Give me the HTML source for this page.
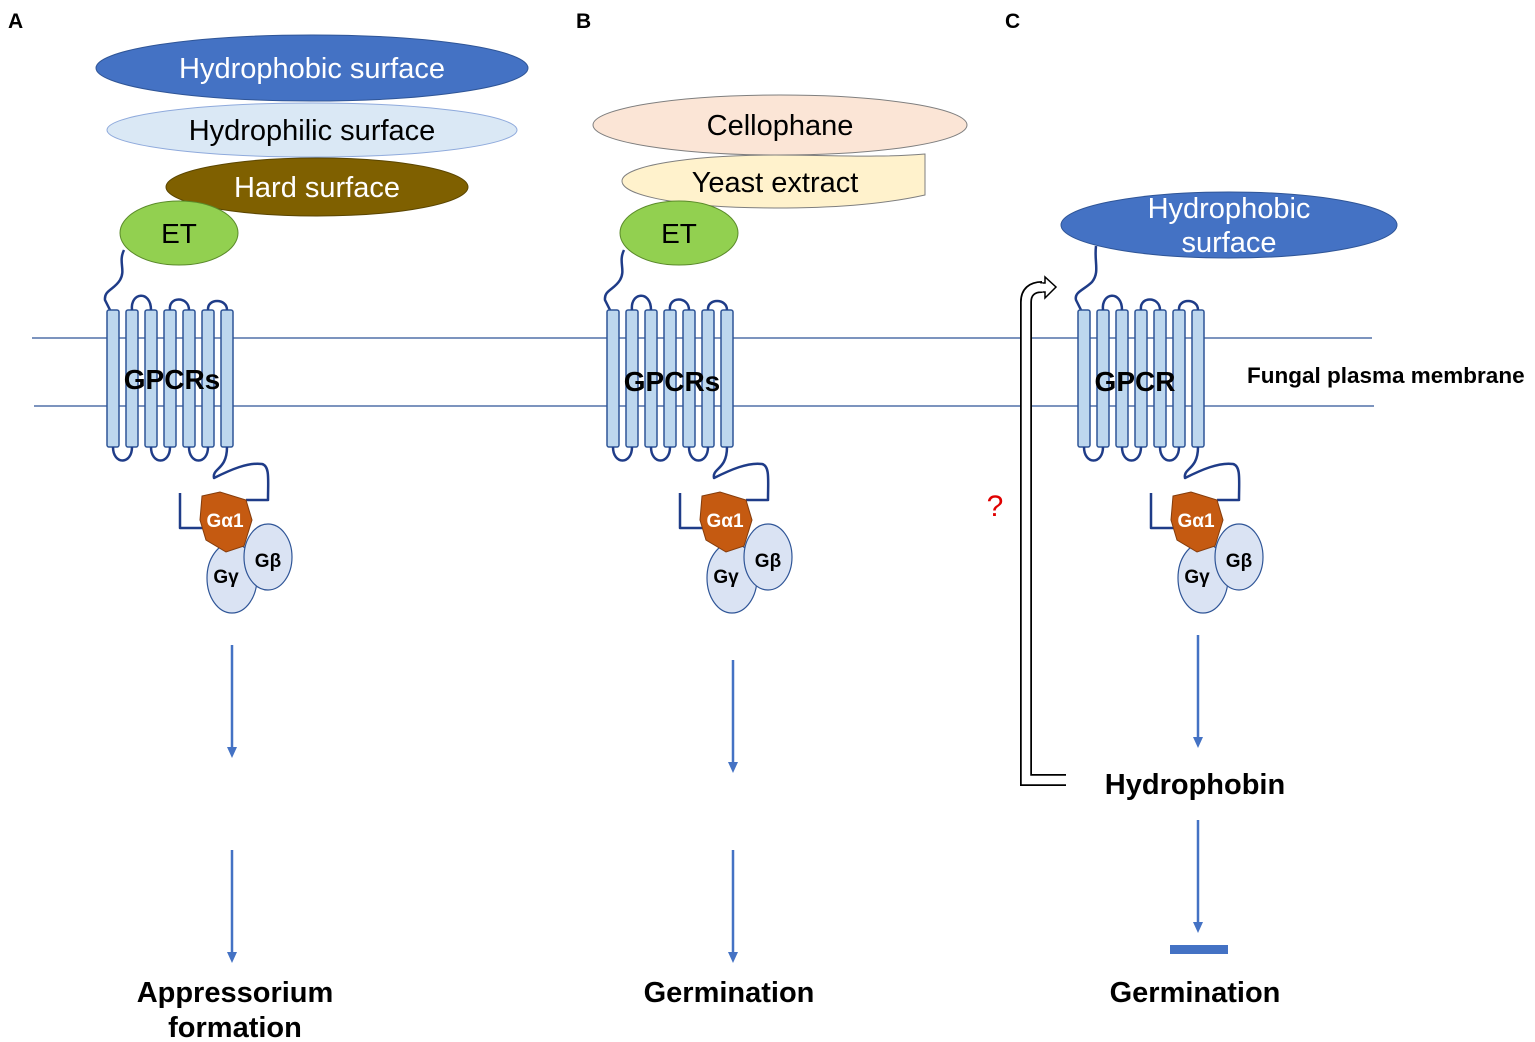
<!DOCTYPE html>
<html><head><meta charset="utf-8"><style>
body{margin:0;background:#fff}
svg{display:block}
text{font-family:"Liberation Sans",sans-serif}
</style></head><body>
<svg width="1535" height="1042" viewBox="0 0 1535 1042" xmlns="http://www.w3.org/2000/svg">
<defs>
<g id="gpcr">
  <g fill="#bdd7ee" stroke="#2f5597" stroke-width="1.5">
    <rect x="107" y="310" width="12" height="137" rx="2"/>
    <rect x="126" y="310" width="12" height="137" rx="2"/>
    <rect x="145" y="310" width="12" height="137" rx="2"/>
    <rect x="164" y="310" width="12" height="137" rx="2"/>
    <rect x="183" y="310" width="12" height="137" rx="2"/>
    <rect x="202" y="310" width="12" height="137" rx="2"/>
    <rect x="221" y="310" width="12" height="137" rx="2"/>
  </g>
  <g fill="none" stroke="#1f3c88" stroke-width="2.5" stroke-linejoin="round">
    <path d="M132 310 C130 292 151 290 151 310"/>
    <path d="M170 310 C168 296 189 296 189 310"/>
    <path d="M208 310 C207 298 227 298 227 310"/>
    <path d="M113 447 C113 465 132 465 132 447"/>
    <path d="M151 447 C151 465 170 465 170 447"/>
    <path d="M189 447 C189 465 208 465 208 447"/>
    <path d="M227 447 C227 470 212 468 214 478 C230 470 248 462 262 464 C270 466 268 480 268 500 L246 500"/>
    <path d="M180 493 L180 528 L205 528"/>
  </g>
  <ellipse cx="232" cy="578" rx="25" ry="35" fill="#dae3f3" stroke="#2f5597" stroke-width="1.2"/>
  <ellipse cx="268" cy="557" rx="24" ry="33" fill="#dae3f3" stroke="#2f5597" stroke-width="1.2"/>
  <path d="M202 496 L220 492 L246 500 L252 520 L244 546 L226 552 L206 540 L200 520 Z" fill="#c55a11" stroke="#843c0c" stroke-width="1"/>
</g>
</defs>

<line x1="32" y1="338" x2="1372" y2="338" stroke="#2f5597" stroke-width="1.2"/>
<line x1="34" y1="406" x2="1374" y2="406" stroke="#2f5597" stroke-width="1.2"/>

<text x="8" y="28" font-size="21" font-weight="bold">A</text>
<text x="576" y="28" font-size="21" font-weight="bold">B</text>
<text x="1005" y="28" font-size="21" font-weight="bold">C</text>

<!-- Panel A -->
<ellipse cx="312" cy="68" rx="216" ry="33" fill="#4472c4" stroke="#2f5597"/>
<text x="312" y="78" font-size="29" fill="#fff" text-anchor="middle">Hydrophobic surface</text>
<ellipse cx="312" cy="130" rx="205" ry="27" fill="#dae8f5" stroke="#8faadc"/>
<text x="312" y="140" font-size="29" text-anchor="middle">Hydrophilic surface</text>
<ellipse cx="317" cy="187" rx="151" ry="29" fill="#7f6000" stroke="#5a4500"/>
<text x="317" y="197" font-size="29" fill="#fff" text-anchor="middle">Hard surface</text>
<ellipse cx="179" cy="233" rx="59" ry="32" fill="#92d050" stroke="#5a8a2a"/>
<text x="179" y="243" font-size="28" text-anchor="middle">ET</text>
<path d="M124 250 C118 262 126 270 120 280 C114 290 104 290 105 300 L110 310" fill="none" stroke="#1f3c88" stroke-width="2.5"/>
<use href="#gpcr"/>
<text x="172" y="389" font-size="28" font-weight="bold" text-anchor="middle">GPCRs</text>

<!-- Panel B -->
<ellipse cx="780" cy="125" rx="187" ry="30" fill="#fbe5d6" stroke="#7f7f7f"/>
<text x="780" y="135" font-size="29" text-anchor="middle">Cellophane</text>
<path d="M925 154 L925 195 C880 205 830 208 775 208 C690 208 622 197 622 181 C622 166 690 155 775 155 C830 155 880 158 925 154 Z" fill="#fff2cc" stroke="#7f7f7f"/>
<text x="775" y="192" font-size="29" text-anchor="middle">Yeast extract</text>
<ellipse cx="679" cy="233" rx="59" ry="32" fill="#92d050" stroke="#5a8a2a"/>
<text x="679" y="243" font-size="28" text-anchor="middle">ET</text>
<path d="M624 250 C618 262 626 270 620 280 C614 290 604 290 605 300 L610 310" fill="none" stroke="#1f3c88" stroke-width="2.5"/>
<use href="#gpcr" x="500"/>
<text x="672" y="391" font-size="28" font-weight="bold" text-anchor="middle">GPCRs</text>

<!-- Panel C -->
<ellipse cx="1229" cy="225" rx="168" ry="33" fill="#4472c4" stroke="#2f5597"/>
<text x="1229" y="218" font-size="29" fill="#fff" text-anchor="middle">Hydrophobic</text>
<text x="1229" y="252" font-size="29" fill="#fff" text-anchor="middle">surface</text>
<path d="M1096 246 C1094 262 1100 272 1092 282 C1084 290 1074 292 1076 300 L1081 310" fill="none" stroke="#1f3c88" stroke-width="2.5"/>
<use href="#gpcr" x="971"/>
<text x="1135" y="391" font-size="28" font-weight="bold" text-anchor="middle">GPCR</text>
<text x="1247" y="383" font-size="22.5" font-weight="bold">Fungal plasma membrane</text>

<!-- feedback arrow -->
<path d="M1066 780 L1026 780 L1026 302 C1026 292 1032 287 1042 287" fill="none" stroke="#000" stroke-width="12"/>
<path d="M1066 780 L1026 780 L1026 302 C1026 292 1032 287 1042 287" fill="none" stroke="#fff" stroke-width="8.5"/>
<path d="M1041 283 L1045 283 L1045 277 L1056 287 L1045 298 L1045 292 L1041 292 Z" fill="#fff" stroke="#000" stroke-width="1.5"/>
<rect x="1038" y="283.5" width="5" height="8" fill="#fff"/>
<text x="995" y="516" font-size="30" fill="#e00000" text-anchor="middle">?</text>

<g font-weight="bold" font-size="19">
<text x="225" y="527" fill="#fff" text-anchor="middle">Gα1</text>
<text x="268" y="567" text-anchor="middle">Gβ</text>
<text x="226" y="583" text-anchor="middle">Gγ</text>
<text x="725" y="527" fill="#fff" text-anchor="middle">Gα1</text>
<text x="768" y="567" text-anchor="middle">Gβ</text>
<text x="726" y="583" text-anchor="middle">Gγ</text>
<text x="1196" y="527" fill="#fff" text-anchor="middle">Gα1</text>
<text x="1239" y="567" text-anchor="middle">Gβ</text>
<text x="1197" y="583" text-anchor="middle">Gγ</text>
</g>

<g stroke="#4472c4" stroke-width="2.5">
<line x1="232" y1="645" x2="232" y2="750"/>
<line x1="232" y1="850" x2="232" y2="955"/>
<line x1="733" y1="660" x2="733" y2="765"/>
<line x1="733" y1="850" x2="733" y2="955"/>
<line x1="1198" y1="635" x2="1198" y2="740"/>
<line x1="1198" y1="820" x2="1198" y2="925"/>
</g>
<g fill="#4472c4">
<polygon points="227,747 237,747 232,758"/>
<polygon points="227,952 237,952 232,963"/>
<polygon points="728,762 738,762 733,773"/>
<polygon points="728,952 738,952 733,963"/>
<polygon points="1193,737 1203,737 1198,748"/>
<polygon points="1193,922 1203,922 1198,933"/>
</g>
<rect x="1170" y="945" width="58" height="9" fill="#4472c4"/>

<g font-weight="bold" font-size="29" text-anchor="middle">
<text x="235" y="1002">Appressorium</text>
<text x="235" y="1037">formation</text>
<text x="729" y="1002">Germination</text>
<text x="1195" y="1002">Germination</text>
<text x="1195" y="794">Hydrophobin</text>
</g>
</svg>
</body></html>
